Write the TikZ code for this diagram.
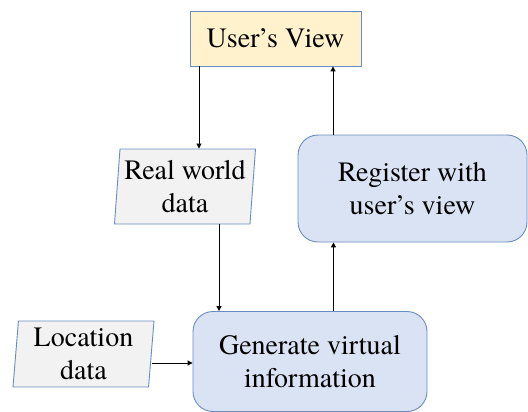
\documentclass[tikz,border=0pt]{standalone}
\usepackage{fontspec}
\setmainfont{TeX Gyre Termes}
\usetikzlibrary{shapes.geometric,arrows.meta}
\definecolor{edgeblue}{HTML}{6A8DBF}
\definecolor{procfill}{HTML}{DAE3F3}
\definecolor{datafill}{HTML}{F2F2F2}
\definecolor{viewfill}{HTML}{FFF2CC}
\tikzset{
  txt/.style={font=\fontsize{28}{33}\selectfont, align=center, inner sep=0pt},
  viewbox/.style={txt, draw=edgeblue, fill=viewfill, line width=0.9pt, minimum width=171pt, minimum height=55pt},
  procbox/.style={txt, draw=edgeblue, fill=procfill, line width=0.9pt, rounded corners=20pt},
  databox/.style={txt, draw=edgeblue, fill=datafill, line width=0.9pt, trapezium, trapezium left angle=84, trapezium right angle=96, trapezium stretches body},
  arr/.style={-{Triangle[length=5pt,width=5pt]}, line width=1pt}
}
\begin{document}
\begin{tikzpicture}[x=1pt,y=-1pt]
  \useasboundingbox (0,0) rectangle (528,412);
  \node[viewbox] (uv) at (275.5,38.5) {User's View};
  \node[databox, minimum width=141pt, minimum height=75pt] (rwd) at (185,186.5) {Real world\\data};
  \node[procbox, minimum width=229pt, minimum height=107pt] (reg) at (412.5,188.5) {Register with\\user's view};
  \node[databox, minimum width=141pt, minimum height=66pt] (ld) at (83.5,354) {Location\\data};
  \node[procbox, minimum width=234pt, minimum height=100pt] (gen) at (310,361.5) {Generate virtual\\information};
  \draw[arr] ([xshift=-76.5pt]uv.south) -- ([xshift=-76.5pt]uv.south |- rwd.north);
  \draw[arr] ([xshift=34pt]rwd.south) -- ([xshift=34pt]rwd.south |- gen.north);
  \draw[arr] ([xshift=23.5pt]gen.north) -- ([xshift=23.5pt]gen.north |- reg.south);
  \draw[arr] ([xshift=-79.5pt]reg.north) -- ([xshift=-79.5pt]reg.north |- uv.south);
  \draw[arr] ([yshift=-9pt]ld.east) -- ([yshift=-9pt]ld.east -| gen.west);
\end{tikzpicture}
\end{document}
